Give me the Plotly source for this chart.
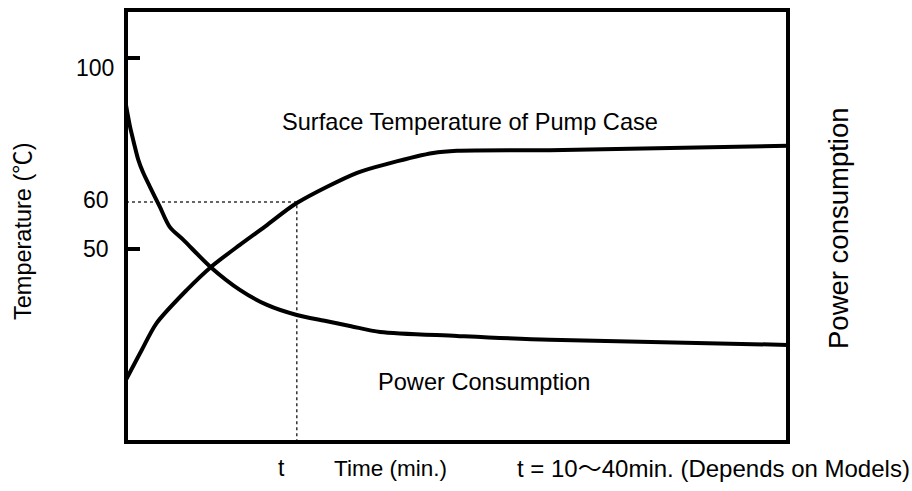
import plotly.graph_objects as go

# ---- data (schematic values) ----
# x: relative time (0..100 of the time axis), y: temperature scale (°C)
temp_x = [0, 2.3, 4.6, 9.2, 12.8, 17.2, 21.3, 25.8, 34.9, 39.9, 46.4, 50.0, 64.0, 100]
temp_y = [10.6, 18.6, 26.3, 35.6, 41.9, 48.1, 53.6, 59.7, 68.1, 70.8, 73.6, 74.2, 74.4, 75.6]

power_x = [0, 0.6, 1.2, 1.86, 2.6, 3.6, 5.1, 6.6, 8.7, 12.8, 17.2, 21.3, 25.8, 30.0, 34.0, 38.4, 50.0, 64.0, 100]
power_y = [86.9, 81.0, 76.4, 71.7, 68.1, 64.3, 58.7, 53.1, 49.4, 41.9, 35.6, 31.4, 28.6, 27.0, 25.5, 23.9, 22.8, 21.7, 20.3]

t_mark = 25.8          # time "t" where the case reaches 60 °C
t_temp = 60

tick_vals = [100, 47]  # positions of the tick marks on the temperature scale
tick_labels = ["100", "60", "50"]

FONT = "Liberation Sans, Arial, Noto Sans CJK JP, sans-serif"
NARROW = "Liberation Sans Narrow, Arial Narrow, Liberation Sans, sans-serif"

fig = go.Figure()

# dotted guide lines
fig.add_trace(go.Scatter(x=[0, t_mark, t_mark], y=[t_temp, t_temp, -10],
                         mode="lines", line=dict(color="#333", width=1.5, dash="dot"),
                         hoverinfo="skip", showlegend=False))

fig.add_trace(go.Scatter(x=temp_x, y=temp_y, mode="lines",
                         line=dict(color="black", width=4, shape="spline", smoothing=0.8),
                         showlegend=False, name="Surface Temperature of Pump Case"))
fig.add_trace(go.Scatter(x=power_x, y=power_y, mode="lines",
                         line=dict(color="black", width=4, shape="spline", smoothing=0.8),
                         showlegend=False, name="Power Consumption"))

W, H = 912, 491
L, R, T, B = 126, 124, 10, 49
pw, ph = W - L - R, H - T - B

def px(xp):
    return (xp - L) / pw

def py(yp):
    return (H - B - yp) / ph

def note(text, x, y, size, family=FONT, xanchor="center", angle=0, ref="paper"):
    return dict(text=text, x=x, y=y, xref=ref, yref=ref, xanchor=xanchor, yanchor="middle",
                textangle=angle, showarrow=False,
                font=dict(size=size, family=family, color="black"))

annotations = [
    note("Surface Temperature of Pump Case", px(470), py(122), 23.6),
    note("Power Consumption", px(484), py(382), 23.6),
    # left value labels
    note(tick_labels[0], px(95), py(68), 23, NARROW),
    note(tick_labels[1], px(96), py(200), 23, NARROW),
    note(tick_labels[2], px(96), py(249), 23, NARROW),
    # axis titles
    note("Temperature (℃)", px(23), py(231), 23.5, angle=-90),
    note("Power consumption", px(838), py(228), 27.5, angle=-90),
    # bottom texts
    note("t", px(281), py(468), 23),
    note("Time (min.)", px(332), py(468), 22.5, xanchor="left"),
    note("t = 10〜40min. (Depends on Models)", px(515), py(468), 24, xanchor="left"),
]

fig.update_layout(
    width=W, height=H,
    margin=dict(l=L, r=R, t=T, b=B, pad=0),
    paper_bgcolor="white", plot_bgcolor="white",
    xaxis=dict(range=[0, 100], showgrid=False, zeroline=False, showticklabels=False,
               ticks="", showline=False, fixedrange=True),
    yaxis=dict(range=[-6.67, 113.33], showgrid=False, zeroline=False,
               tickvals=tick_vals, ticktext=["", ""], ticks="inside", ticklen=14,
               tickwidth=4, tickcolor="black", showline=False, fixedrange=True),
    shapes=[dict(type="rect", xref="paper", yref="paper", x0=0, x1=1, y0=0, y1=1,
                 line=dict(color="black", width=4), layer="above")],
    annotations=annotations,
    showlegend=False,
)

fig.write_html("out.html", config={"displayModeBar": False},
               post_script="document.body.style.margin='0';")
